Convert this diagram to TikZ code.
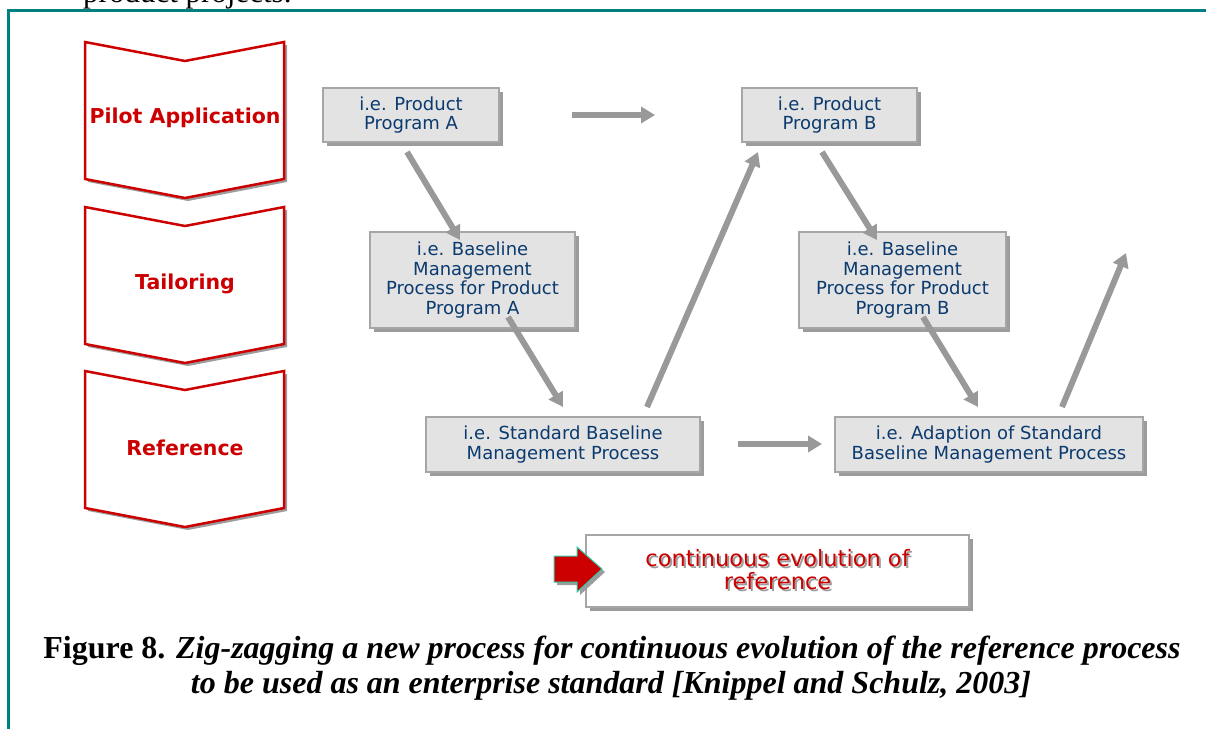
\documentclass[tikz,border=0pt]{standalone}
\usepackage{fontspec}
\setmainfont{Liberation Serif}
\newfontfamily\boxfont{DejaVu Sans}
\usetikzlibrary{arrows.meta,shadows}
\definecolor{frameteal}{HTML}{008080}
\definecolor{chevred}{HTML}{CC0000}
\definecolor{boxfill}{HTML}{E3E3E3}
\definecolor{boxborder}{HTML}{A6A6A6}
\definecolor{shadowgray}{HTML}{9C9C9C}
\definecolor{arrowgray}{HTML}{999999}
\definecolor{boxtext}{HTML}{0B3A6E}
\definecolor{arrowedge}{HTML}{33CCAA}
\newcommand{\shtext}[1]{\makebox[0pt][l]{\hspace{2pt}\raisebox{-2pt}{\textcolor{shadowgray}{#1}}}\textcolor{chevred}{#1}}
\tikzset{
  chev/.style={draw=chevred, line width=2.5pt, fill=white, line join=miter},
  chevshadow/.style={fill=shadowgray, draw=none},
  chevlabel/.style={font=\boxfont\bfseries\fontsize{20.5}{24}\selectfont, text=chevred, inner sep=0pt},
  procbox/.style={draw=boxborder, line width=1.5pt, fill=boxfill,
    font=\boxfont\fontsize{18}{19.5}\selectfont, text=boxtext, align=center, inner sep=0pt,
    drop shadow={shadow xshift=4pt, shadow yshift=-4pt, fill=shadowgray, opacity=1}},
  flow/.style={draw=arrowgray, line width=6pt, -{Triangle[width=16pt,length=14pt]}},
  legendbox/.style={draw=boxborder, line width=1.5pt, fill=white, align=center, inner sep=0pt,
    font=\boxfont\fontsize{22.5}{23}\selectfont,
    drop shadow={shadow xshift=4pt, shadow yshift=-4pt, fill=shadowgray, opacity=1}},
  captext/.style={font=\fontsize{32}{36}\selectfont, inner sep=0pt, anchor=base}
}
\begin{document}
\begin{tikzpicture}[x=1pt,y=-1pt]
\useasboundingbox (0,0) rectangle (1206,729);
% text of previous paragraph, cut off at the top
\node[anchor=base west, inner sep=0pt, font=\fontsize{31}{36}\selectfont] (prevtext) at (83,2) {product projects.};
% frame
\draw[frameteal, line width=3pt] (8.5,729) -- (8.5,10.5) -- (1206,10.5);
% chevrons
\foreach \t in {42,207,371}{
  \fill[chevshadow] (88,\t+3) -- (188,\t+22) -- (287,\t+3) -- (287,\t+140) -- (188,\t+159) -- (88,\t+140) -- cycle;
  \draw[chev] (85,\t) -- (185,\t+19) -- (284,\t) -- (284,\t+137) -- (185,\t+156) -- (85,\t+137) -- cycle;
}
\node[chevlabel] (pilot) at (185,118) {Pilot Application};
\node[chevlabel] (tail) at (185,284) {Tailoring};
\node[chevlabel] (ref) at (185,448) {Reference};
% process boxes
\node[procbox, minimum width=176pt, minimum height=54pt] (A1) at (411,115) {i.e. Product\\Program A};
\node[procbox, minimum width=205pt, minimum height=96pt] (A2) at (472.5,280) {i.e. Baseline\\Management\\Process for Product\\Program A};
\node[procbox, minimum width=175pt, minimum height=54pt] (B1) at (829.5,115) {i.e. Product\\Program B};
\node[procbox, minimum width=207pt, minimum height=96pt] (B2) at (902.5,280) {i.e. Baseline\\Management\\Process for Product\\Program B};
\node[procbox, minimum width=274pt, minimum height=55pt] (Std) at (563,444.5) {i.e. Standard Baseline\\Management Process};
\node[procbox, minimum width=308pt, minimum height=55pt] (Adp) at (989,444.5) {i.e. Adaption of Standard\\Baseline Management Process};
% arrow end points
\coordinate (a1s) at (407,152); \coordinate (a1e) at (460,240);
\coordinate (a2s) at (508,317); \coordinate (a2e) at (563,407);
\coordinate (a3s) at (647,407); \coordinate (a3e) at (758,152);
\coordinate (a4s) at (572,115); \coordinate (a4e) at (655,115);
\coordinate (a5s) at (822,152); \coordinate (a5e) at (877,240);
\coordinate (a6s) at (923,317); \coordinate (a6e) at (978,407);
\coordinate (a7s) at (1062,407); \coordinate (a7e) at (1126,253);
\coordinate (a8s) at (738,444); \coordinate (a8e) at (822,444);
\foreach \i in {1,...,8}{ \draw[flow] (a\i s) -- (a\i e); }
% legend
\node[legendbox, minimum width=383pt, minimum height=72pt] (leg) at (777.5,571) {\shtext{continuous evolution of}\\\shtext{reference}};
\fill[shadowgray] (557,559) -- (580,559) -- (580,550) -- (605,572) -- (580,595) -- (580,585) -- (557,585) -- cycle;
\draw[fill=chevred, draw=arrowedge, line width=1pt] (554,556) -- (577,556) -- (577,547) -- (602,569) -- (577,592) -- (577,582) -- (554,582) -- cycle;
% caption
\node[captext] (cap1) at (612,658) {\textbf{Figure 8.} \textbf{\textit{Zig-zagging a new process for continuous evolution of the reference process}}};
\node[captext] (cap2) at (611,693) {\textbf{\textit{to be used as an enterprise standard [Knippel and Schulz, 2003]}}};
\end{tikzpicture}
\end{document}
